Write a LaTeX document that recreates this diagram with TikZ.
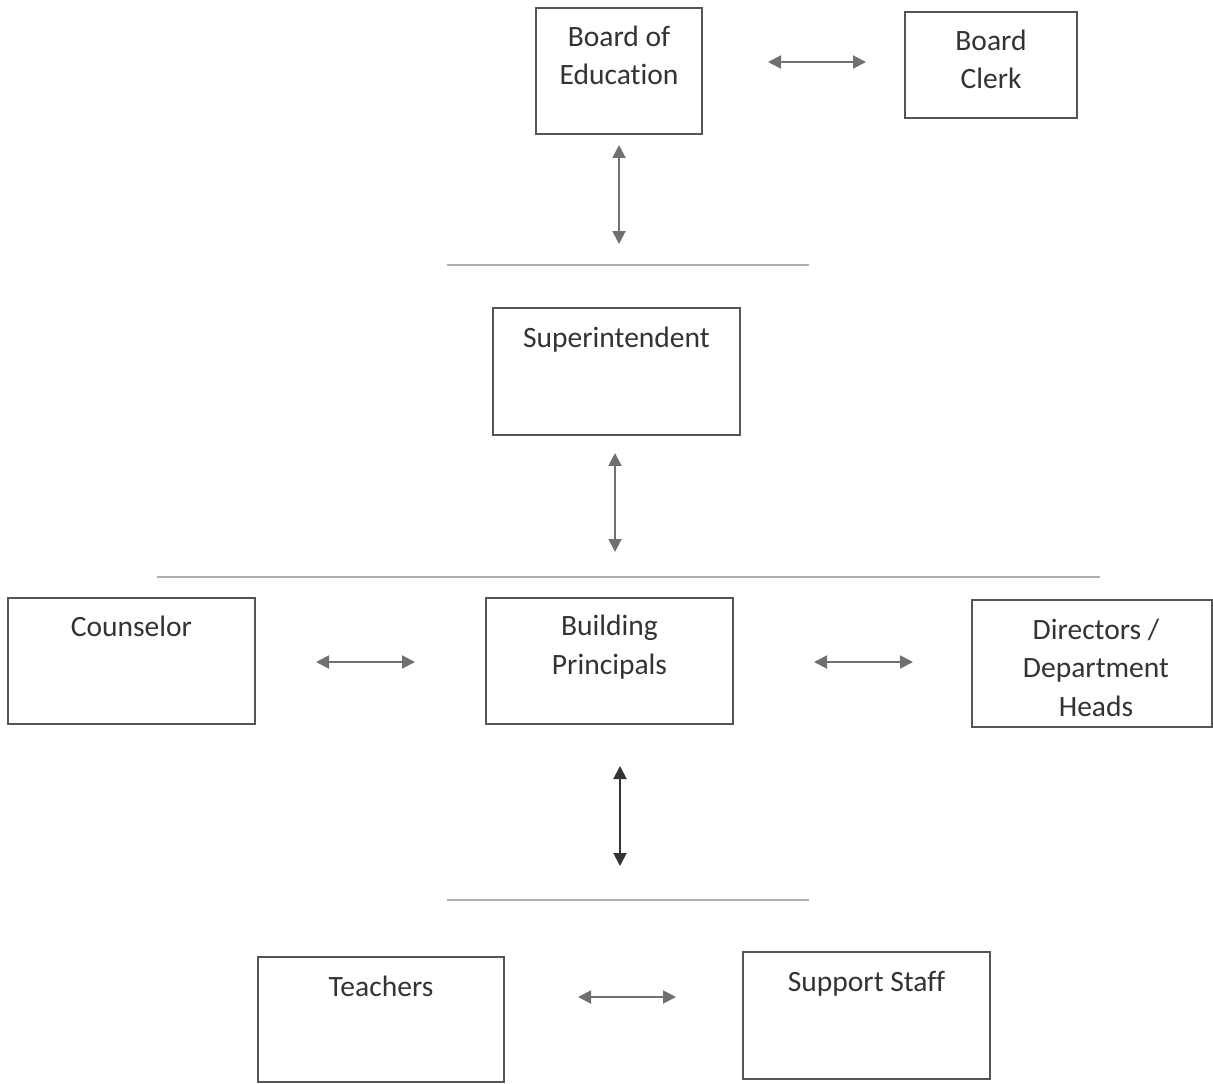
\documentclass[tikz,border=0pt]{standalone}
\usepackage{fontspec}
\setmainfont{Carlito}[Ligatures=NoCommon]
\usetikzlibrary{arrows.meta}
\definecolor{boxgray}{HTML}{555555}
\definecolor{arrowgray}{HTML}{707070}
\definecolor{rulegray}{HTML}{B0B0B0}
\definecolor{textgray}{HTML}{333333}
\tikzset{
  box/.style={draw=boxgray, line width=0.8pt, rectangle, inner sep=0pt},
  txt/.style={anchor=base, align=center, text=textgray, inner sep=0pt,
    font=\fontsize{16.8}{21.9}\selectfont},
  link/.style={draw=arrowgray, line width=1.1pt,
    {Triangle[length=0.26cm,width=0.26cm]}-{Triangle[length=0.26cm,width=0.26cm]}},
  sep/.style={draw=rulegray, line width=0.6pt}
}
\begin{document}
\begin{tikzpicture}[x=0.02cm, y=-0.02cm]
\useasboundingbox (0,0) rectangle (1213,1084);
%boxes
\node[box, minimum width=3.32cm, minimum height=2.52cm] (boe) at (619,71) {};
\node[box, minimum width=3.44cm, minimum height=2.12cm] (clerk) at (991,65) {};
\node[box, minimum width=4.94cm, minimum height=2.54cm] (supt) at (616.5,371.5) {};
\node[box, minimum width=4.94cm, minimum height=2.52cm] (couns) at (131.5,661) {};
\node[box, minimum width=4.94cm, minimum height=2.52cm] (bp) at (609.5,661) {};
\node[box, minimum width=4.80cm, minimum height=2.54cm] (dir) at (1092,663.5) {};
\node[box, minimum width=4.92cm, minimum height=2.50cm] (teach) at (381,1019.5) {};
\node[box, minimum width=4.94cm, minimum height=2.54cm] (supp) at (866.5,1015.5) {};
%texts (base = last line)
\node[txt] (boe-t) at ([yshift=-1.55cm]boe.north) {Board of\\Education};
\node[txt] (clerk-t) at ([yshift=-1.55cm]clerk.north) {Board\\Clerk};
\node[txt] (supt-t) at ([yshift=-0.80cm]supt.north) {Superintendent};
\node[txt] (couns-t) at ([yshift=-0.78cm]couns.north) {Counselor};
\node[txt] (bp-t) at ([yshift=-1.54cm]bp.north) {Building\\Principals};
\node[txt] (dir-t) at ([xshift=0.08cm,yshift=-2.34cm]dir.north) {Directors /\\Department\\Heads};
\node[txt] (teach-t) at ([yshift=-0.80cm]teach.north) {Teachers};
\node[txt] (supp-t) at ([yshift=-0.80cm]supp.north) {Support Staff};
%rules
\draw[sep] (447,265) -- (809,265);
\draw[sep] (157,577) -- (1100,577);
\draw[sep] (447,900) -- (809,900);
%arrow ends
\coordinate (boe-r) at (768,62);
\coordinate (clerk-l) at (866,62);
\coordinate (boe-b) at (619,145);
\coordinate (supt-a) at (619,244);
\coordinate (supt-b) at (615,453);
\coordinate (bp-a) at (615,552);
\coordinate (couns-r) at (316,662);
\coordinate (bp-l) at (415,662);
\coordinate (bp-r) at (814,662);
\coordinate (dir-l) at (913,662);
\coordinate (bp-b) at (620,766);
\coordinate (teach-a) at (620,866);
\coordinate (teach-r) at (578,997);
\coordinate (supp-l) at (676,997);
%arrows
\draw[link] (boe-r) -- (clerk-l);
\draw[link] (boe-b) -- (supt-a);
\draw[link] (supt-b) -- (bp-a);
\draw[link] (couns-r) -- (bp-l);
\draw[link] (bp-r) -- (dir-l);
\draw[link, draw=textgray, fill=textgray] (bp-b) -- (teach-a);
\draw[link] (teach-r) -- (supp-l);
\end{tikzpicture}
\end{document}
